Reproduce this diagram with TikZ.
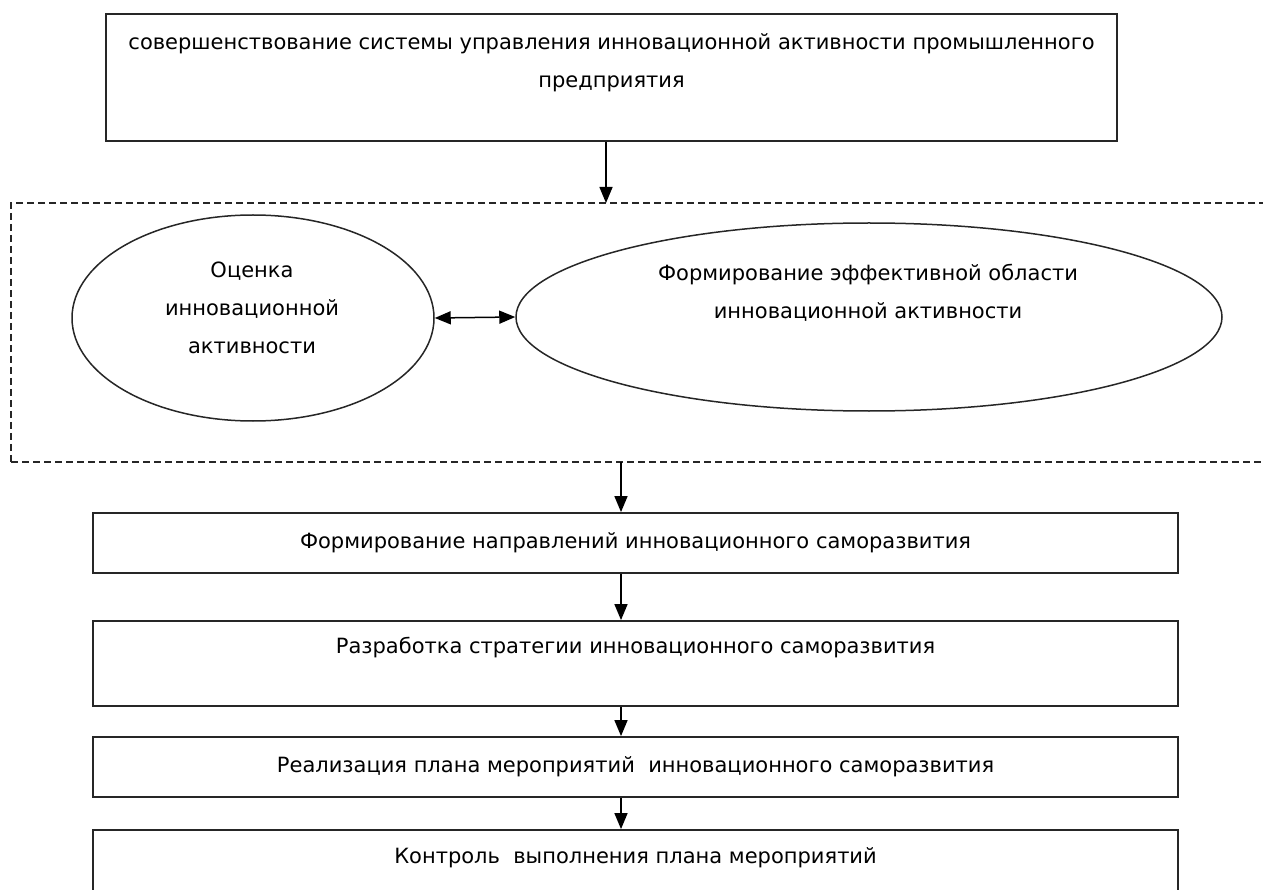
\documentclass[tikz,border=0pt]{standalone}
\usepackage{fontspec}
\setmainfont{DejaVu Sans}
\usetikzlibrary{arrows.meta,shapes.geometric}

\begin{document}
\begin{tikzpicture}[x=1pt,y=-1pt,
  box/.style={draw,line width=1.8pt,draw=black!85,inner sep=0pt,minimum width=1085pt},
  oval/.style={draw,ellipse,line width=1.5pt,draw=black!85,inner sep=0pt},
  frame/.style={draw,dashed,dash pattern=on 7pt off 4pt,line width=1.3pt,draw=black!85,inner sep=0pt},
  txt/.style={align=center,font=\fontsize{21}{38}\selectfont,inner sep=0pt},
  arr/.style={-{Triangle[length=16pt,width=13pt]},line width=1.5pt}]
\clip (0,0) rectangle (1263,890);

%% верхний блок
\node[box,minimum width=1011pt,minimum height=127pt] (sov) at (611.5,77.5) {};
\node[txt] (sovtxt) at (611.5,62.5) {совершенствование системы управления инновационной активности промышленного\\предприятия};

%% пунктирная рамка с двумя овалами
\node[frame,minimum width=1279pt,minimum height=259pt] (frm) at (650.5,332.5) {};
\coordinate (in) at (606,203);
\coordinate (out) at (621,462);

\node[oval,minimum width=362pt,minimum height=206pt] (ocen) at (253,318) {};
\node[txt] (ocentxt) at (252,308) {Оценка\\инновационной\\активности};
\node[oval,minimum width=706pt,minimum height=188pt] (form) at (869,317) {};
\node[txt] (formtxt) at (868,293) {Формирование эффективной области\\инновационной активности};
\draw[{Triangle[length=16pt,width=13pt]}-{Triangle[length=16pt,width=13pt]},line width=1.5pt] (ocen.east) -- (form.west);

%% нижние блоки
\node[box,minimum height=60pt] (napr) at (635.5,543) {\fontsize{21}{38}\selectfont Формирование направлений инновационного саморазвития};
\node[box,minimum height=85pt] (strat) at (635.5,663.5) {};
\node[txt] (strattxt) at (635.5,648) {Разработка стратегии инновационного саморазвития};
\node[box,minimum height=60pt] (real) at (635.5,767) {\fontsize{21}{38}\selectfont Реализация плана мероприятий\ \ инновационного саморазвития};
\node[box,minimum height=85pt] (kontr) at (635.5,872.5) {};
\node[txt] (kontrtxt) at (635.5,858) {Контроль\ \ выполнения плана мероприятий};

%% стрелки
\draw[arr] (sov.south -| in) -- (in);
\draw[arr] (out) -- (out |- napr.north);
\draw[arr] (napr.south -| out) -- (strat.north -| out);
\draw[arr] (strat.south -| out) -- (real.north -| out);
\draw[arr] (real.south -| out) -- (kontr.north -| out);
\end{tikzpicture}
\end{document}
